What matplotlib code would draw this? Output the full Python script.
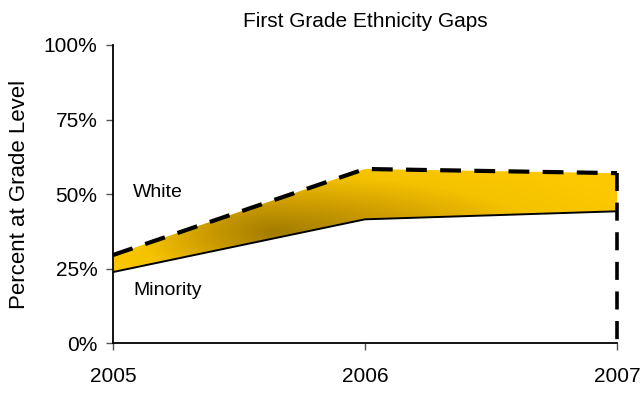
import numpy as np
import matplotlib
matplotlib.use("Agg")
import matplotlib.pyplot as plt
from matplotlib.colors import LinearSegmentedColormap

plt.rcParams['font.family'] = ['Liberation Sans', 'DejaVu Sans']

years = [2005, 2006, 2007]
white = [0.295, 0.584, 0.570]
minority = [0.238, 0.415, 0.442]
title = "First Grade Ethnicity Gaps"
ylabel = "Percent at Grade Level"
yticks = [0, 0.25, 0.5, 0.75, 1.0]
yticklabels = ["0%", "25%", "50%", "75%", "100%"]

fig = plt.figure(figsize=(6.41, 3.93), dpi=100)
ax = fig.add_axes([0.176, 0.1272, 0.7866, 0.7583])

# gradient fill between the two series
poly = ax.fill_between(years, minority, white, color='none', linewidth=0)
xs = np.linspace(2005, 2007, 400)
ys = np.linspace(0, 1, 300)
X, Y = np.meshgrid(xs, ys)
cx, cy = 2005.63, 0.37
rx = np.where(X < cx, 0.62, 1.25)
R = np.sqrt(((X - cx) / rx) ** 2 + ((Y - cy) / 0.23) ** 2)
cmap = LinearSegmentedColormap.from_list(
    "gold", [(0, "#A37C00"), (0.35, "#CC9C00"), (0.7, "#F5C200"), (1.0, "#FCC800")])
img = ax.imshow(np.clip(R, 0, 1.2), extent=[2005, 2007, 0, 1], origin='lower',
                aspect='auto', cmap=cmap, vmin=0, vmax=1.2, zorder=1)
img.set_clip_path(poly.get_paths()[0], transform=ax.transData)

ax.plot(years, minority, color='black', lw=1.4, zorder=3)
ax.plot(years, white, color='black', lw=3.0, ls=(0, (5, 3.2)), zorder=4, clip_on=False)
ax.plot([years[-1], years[-1]], [white[-1], 0], color='black', lw=2.6,
        ls=(0, (5, 3.2)), zorder=4, clip_on=False)

ax.set_xlim(2005, 2007)
ax.set_ylim(0, 1)
ax.set_xticks(years)
ax.set_xticklabels([str(y) for y in years], fontsize=15)
ax.set_yticks(yticks)
ax.set_yticklabels(yticklabels, fontsize=15)
ax.tick_params(axis='both', direction='out', length=5, width=1, color='#555555', pad=12)
ax.tick_params(axis='y', pad=6)
for s in ['top', 'right']:
    ax.spines[s].set_visible(False)
for s in ['left', 'bottom']:
    ax.spines[s].set_linewidth(1.3)

ax.set_ylabel(ylabel, fontsize=16, labelpad=10)
ax.set_title(title, fontsize=15, pad=13)

ax.text(2005.08, 0.505, "White", fontsize=14, va='center', ha='left')
ax.text(2005.08, 0.175, "Minority", fontsize=14, va='center', ha='left')

fig.savefig("out.png", dpi=100)
